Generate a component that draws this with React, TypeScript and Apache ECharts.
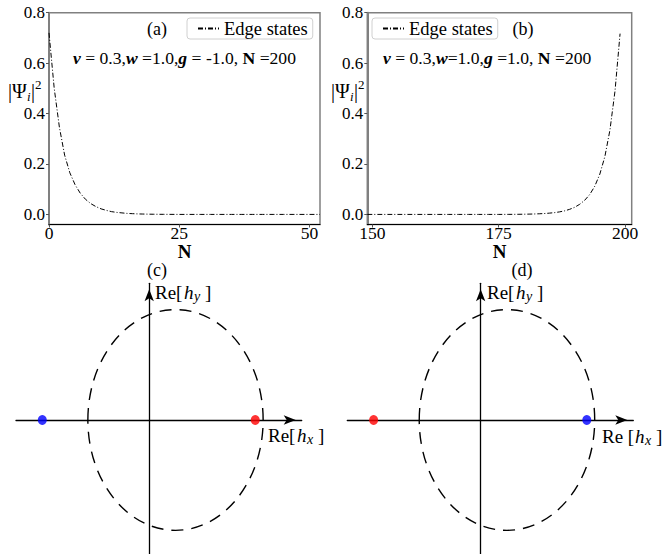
import React, { useEffect, useRef } from "react";
import * as echarts from "echarts";

// ---------- data ----------
const siteStartA = 0;
const psiA = [
  0.72, 0.5, 0.345, 0.235, 0.165, 0.118, 0.084, 0.06, 0.043, 0.031, 0.022,
  0.016, 0.011, 0.008, 0.006, 0.004, 0.003, 0.002, 0.0015, 0.001, 0.0007,
  0.0005, 0.0003, 0.0002, 0.0001, 0, 0, 0, 0, 0, 0, 0, 0, 0, 0, 0, 0, 0, 0,
  0, 0, 0, 0, 0, 0, 0, 0, 0, 0, 0, 0, 0, 0,
];
const siteStartB = 149;
const psiB = [
  0, 0, 0, 0, 0, 0, 0, 0, 0, 0, 0, 0, 0, 0, 0, 0, 0, 0, 0, 0, 0, 0, 0, 0, 0,
  0, 0, 0.0001, 0.0002, 0.0003, 0.0005, 0.0008, 0.0012, 0.0017, 0.0025,
  0.0035, 0.005, 0.007, 0.01, 0.014, 0.02, 0.028, 0.04, 0.056, 0.079, 0.112,
  0.16, 0.23, 0.335, 0.49, 0.717,
];
const xTicksA = [0, 25, 50];
const xTicksB = [150, 175, 200];
const yTicks = [0, 0.2, 0.4, 0.6, 0.8];
const seriesName = "Edge states";

// ellipse: [centerX, centerY, radiusX, radiusY]
const ellipseC = [0.3, 0, 1.0, 1.26];
const ellipseD = [0.3, 0, 1.0, 1.26];
const blueDotC = [-1.22, 0];
const redDotC = [1.21, 0];
const redDotD = [-1.22, 0];
const blueDotD = [1.21, 0];

const SERIF = "Liberation Serif, DejaVu Serif, serif";

function pairs(start: number, vals: number[]) {
  return vals.map((v, i) => [start + i, v]);
}

function txt(x: number, y: number, text: string, o: any = {}) {
  return {
    type: "text",
    x,
    y,
    silent: true,
    style: {
      text,
      fill: "#000",
      fontFamily: SERIF,
      fontSize: o.size || 16,
      fontStyle: o.italic ? "italic" : "normal",
      fontWeight: o.bold ? "bold" : "normal",
      textAlign: o.align || "left",
      textVerticalAlign: "middle",
      rich: o.rich,
    },
  };
}

function psiLabel(x: number, y: number) {
  return [
    txt(x, y, "|Ψ", { size: 20 }),
    txt(x + 19, y + 5, "i", { size: 13, italic: true }),
    txt(x + 23, y, "|", { size: 20 }),
    txt(x + 27, y - 7, "2", { size: 13 }),
  ];
}

function hLabel(x: number, y: number, pre: string, sub: string) {
  const w = pre === "Re [" ? 33 : 29;
  return [
    txt(x, y, pre, { size: 19 }),
    txt(x + w, y, "h", { size: 19, italic: true }),
    txt(x + w + 10, y + 4, sub, { size: 14, italic: true }),
    txt(x + w + 21, y, "]", { size: 19 }),
  ];
}

const FS = 17.6;
const paramRich = {
  n: { fontFamily: SERIF, fontSize: FS },
  bi: { fontFamily: SERIF, fontSize: FS, fontStyle: "italic", fontWeight: "bold" },
  b: { fontFamily: SERIF, fontSize: FS, fontWeight: "bold" },
};

function topAxes(gi: number, min: number, max: number, ticks: number[]) {
  const x = {
    type: "value",
    gridIndex: gi,
    min,
    max,
    name: "N",
    nameLocation: "middle",
    nameGap: -4,
    nameTextStyle: { fontFamily: SERIF, fontSize: 19, fontWeight: "bold", color: "#000" },
    axisLine: { show: true, onZero: false, lineStyle: { color: "#000", width: 1 } },
    axisTick: { show: true, length: 3, customValues: ticks, lineStyle: { color: "#555" } },
    axisLabel: {
      customValues: ticks,
      margin: -1,
      fontFamily: SERIF,
      fontSize: 17.5,
      color: "#000",
      formatter: (v: number) => String(v),
    },
    splitLine: { show: false },
  };
  const y = {
    type: "value",
    gridIndex: gi,
    min: -0.04,
    max: 0.8,
    axisLine: { show: true, lineStyle: { color: "#808080", width: 2 } },
    axisTick: { show: true, length: 3, customValues: yTicks, lineStyle: { color: "#555" } },
    axisLabel: {
      customValues: yTicks,
      margin: 4,
      fontFamily: SERIF,
      fontSize: 17,
      color: "#000",
      formatter: (v: number) => v.toFixed(1),
    },
    splitLine: { show: false },
  };
  return { x, y };
}

function bottomAxes(gi: number) {
  const line = {
    show: true,
    onZero: true,
    symbol: ["none", "arrow"],
    symbolSize: [7, 12],
    symbolOffset: [0, -6],
    lineStyle: { color: "#000", width: 1.3 },
  };
  const x = {
    type: "value",
    gridIndex: gi,
    min: -1.52,
    max: 1.74,
    axisLine: line,
    axisTick: { show: false },
    axisLabel: { show: false },
    splitLine: { show: false },
  };
  const y = {
    type: "value",
    gridIndex: gi,
    min: -1.53,
    max: 1.56,
    axisLine: line,
    axisTick: { show: false },
    axisLabel: { show: false },
    splitLine: { show: false },
  };
  return { x, y };
}

function ellipseSeries(gi: number, e: number[]) {
  return {
    type: "custom",
    xAxisIndex: gi,
    yAxisIndex: gi,
    data: [e],
    encode: { x: 0, y: 1 },
    renderItem: (params: any, api: any) => {
      const c = api.coord([api.value(0), api.value(1)]);
      const s = api.size([api.value(2), api.value(3)]);
      return {
        type: "ellipse",
        shape: { cx: c[0], cy: c[1], rx: s[0], ry: s[1] },
        style: { fill: "none", stroke: "#000", lineWidth: 1.4, lineDash: [12, 8] },
      };
    },
    z: 3,
  };
}

function dotSeries(gi: number, p: number[], color: string) {
  return {
    type: "scatter",
    xAxisIndex: gi,
    yAxisIndex: gi,
    data: [p],
    symbol: "circle",
    symbolSize: [9, 10],
    itemStyle: { color },
    z: 5,
  };
}

function legendAt(left: number) {
  return {
    data: [seriesName],
    left,
    top: 18,
    padding: [1, 5, 1, 10],
    itemWidth: 21,
    itemHeight: 10,
    itemGap: 4,
    borderColor: "#d0d0d0",
    borderWidth: 1,
    borderRadius: 3,
    itemStyle: { opacity: 0 },
    textStyle: { fontFamily: SERIF, fontSize: 18.5, color: "#000" },
  };
}

export default function App() {
  const ref = useRef<HTMLDivElement>(null);
  useEffect(() => {
    if (!ref.current) return;
    const chart = echarts.init(ref.current, undefined, { renderer: "svg" });
    const a = topAxes(0, 0, 52, xTicksA);
    const b = topAxes(1, 149, 201.3, xTicksB);
    const c = bottomAxes(2);
    const d = bottomAxes(3);
    const lineStyle = { color: "#000", width: 1, type: [5, 2, 1, 2] };
    const option: any = {
      animation: false,
      backgroundColor: "#fff",
      textStyle: { fontFamily: SERIF },
      grid: [
        { left: 49, top: 12.7, width: 271, height: 211.8, show: true, borderColor: "#808080", borderWidth: 1.5 },
        { left: 367.3, top: 12.7, width: 264.4, height: 211.8, show: true, borderColor: "#808080", borderWidth: 1.5 },
        { left: 16, top: 283.3, width: 285.7, height: 270.7 },
        { left: 347.3, top: 283.3, width: 286, height: 270.7 },
      ],
      xAxis: [a.x, b.x, c.x, d.x],
      yAxis: [a.y, b.y, c.y, d.y],
      legend: [legendAt(187), legendAt(372)],
      series: [
        {
          name: seriesName,
          type: "line",
          xAxisIndex: 0,
          yAxisIndex: 0,
          data: pairs(siteStartA, psiA),
          symbol: "none",
          itemStyle: { color: "#000" },
          lineStyle,
          clip: true,
        },
        {
          name: seriesName,
          type: "line",
          xAxisIndex: 1,
          yAxisIndex: 1,
          data: pairs(siteStartB, psiB),
          symbol: "none",
          itemStyle: { color: "#000" },
          lineStyle,
          clip: true,
        },
        ellipseSeries(2, ellipseC),
        dotSeries(2, blueDotC, "#0000ff"),
        dotSeries(2, redDotC, "#ff0000"),
        ellipseSeries(3, ellipseD),
        dotSeries(3, redDotD, "#ff0000"),
        dotSeries(3, blueDotD, "#0000ff"),
      ],
      graphic: [
        txt(157, 29, "(a)", { size: 18, align: "center" }),
        txt(523, 29, "(b)", { size: 18, align: "center" }),
        txt(73, 58, "{bi|v}{n| = 0.3,}{bi|w}{n| =1.0,}{bi|g}{n| = -1.0, }{b|N}{n| =200}", { size: FS, rich: paramRich }),
        txt(383, 58, "{bi|v}{n| = 0.3,}{bi|w}{n|=1.0,}{bi|g}{n| =1.0, }{b|N}{n| =200}", { size: FS, rich: paramRich }),
        ...psiLabel(8, 91),
        ...psiLabel(331, 91),
        txt(157, 270, "(c)", { size: 18, align: "center" }),
        txt(522, 270, "(d)", { size: 18, align: "center" }),
        ...hLabel(155, 292, "Re[", "y"),
        ...hLabel(487, 292, "Re[", "y"),
        ...hLabel(268, 435, "Re[", "x"),
        ...hLabel(602, 436, "Re [", "x"),
      ],
    };
    chart.setOption(option);
    return () => chart.dispose();
  }, []);
  return (
    <div
      ref={ref}
      style={{ position: "absolute", left: 0, top: 0, width: 663, height: 554 }}
    />
  );
}
